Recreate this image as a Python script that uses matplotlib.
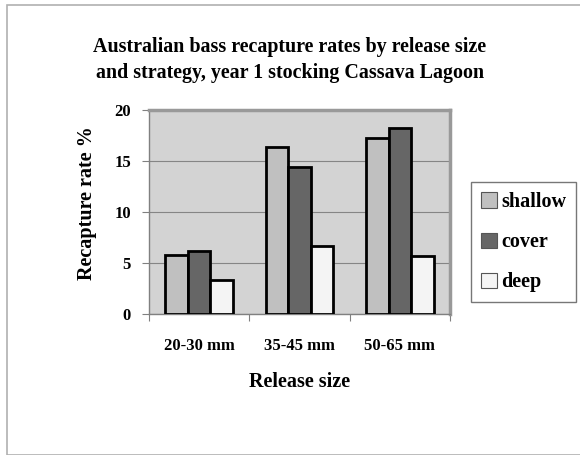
import numpy as np
import matplotlib.pyplot as plt
from matplotlib.patches import Rectangle

# Data
sizes = ['20-30 mm', '35-45 mm', '50-65 mm']
shallow = [5.8, 16.4, 17.3]
cover = [6.2, 14.4, 18.2]
deep = [3.3, 6.7, 5.7]
strategies = ['shallow', 'cover', 'deep']
colors = ['#c0c0c0', '#666666', '#f4f4f4']

plt.rcParams['font.family'] = ['Liberation Serif', 'DejaVu Serif']
plt.rcParams['font.weight'] = 'bold'

fig = plt.figure(figsize=(5.8, 4.55), dpi=100)
W, H = 580, 455

# outer chart border
fig.patches.append(Rectangle((7 / W, 0), 1, 1 - 5 / H, transform=fig.transFigure,
                             fill=False, edgecolor='#b0b0b0', linewidth=1.2))

ax = fig.add_axes([149 / W, (H - 314) / H, (450 - 149) / W, (314 - 110) / H])
ax.set_facecolor('#d3d3d3')

x = np.arange(len(sizes))
bw = 0.225
for i, (vals, lab) in enumerate(zip([shallow, cover, deep], strategies)):
    ax.bar(x + (i - 1) * bw, vals, bw, color=colors[i], edgecolor='black',
           linewidth=2, label=lab, zorder=3)

ax.set_xlim(-0.5, 2.5)
ax.set_ylim(0, 20)
ax.set_yticks([0, 5, 10, 15, 20])
ax.yaxis.grid(True, color='#858585', linewidth=0.8, zorder=0)
ax.set_xticks([-0.5, 0.5, 1.5, 2.5])
ax.set_xticklabels([])
ax.set_xticks(x, minor=True)
ax.set_xticklabels(sizes, minor=True, fontsize=12, fontweight='bold')
ax.tick_params(axis='x', which='minor', length=0, pad=17)
ax.tick_params(axis='x', which='major', length=5, color='#808080')
ax.tick_params(axis='y', length=5, color='#808080', labelsize=12, pad=8)
for lbl in ax.get_yticklabels():
    lbl.set_fontweight('bold')

for s in ['top', 'right']:
    ax.spines[s].set_color('#999999')
    ax.spines[s].set_linewidth(2.5)
for s in ['left', 'bottom']:
    ax.spines[s].set_color('#808080')
    ax.spines[s].set_linewidth(1)

ax.set_ylabel('Recapture rate %', fontsize=14.5, fontweight='bold')
ax.yaxis.set_label_coords(-0.172, 0.545)
ax.set_xlabel('Release size', fontsize=14.5, fontweight='bold', labelpad=13)

fig.text(290 / W, 1 - 47 / H, 'Australian bass recapture rates by release size',
         ha='center', va='center', fontsize=14.4, fontweight='bold')
fig.text(290 / W, 1 - 73 / H, 'and strategy, year 1 stocking Cassava Lagoon',
         ha='center', va='center', fontsize=14.4, fontweight='bold')

leg = fig.legend(loc='upper left', bbox_to_anchor=(471 / W, 1 - 182 / H),
                 bbox_transform=fig.transFigure, frameon=True, fancybox=False,
                 prop={'size': 14.5, 'weight': 'bold'}, handlelength=0.8,
                 handleheight=0.8, handletextpad=0.2, labelspacing=1.0,
                 borderpad=0.5, borderaxespad=0)
leg.get_frame().set_edgecolor('#555555')
leg.get_frame().set_linewidth(1)
for h in leg.legend_handles:
    h.set_linewidth(0.8)
    h.set_edgecolor('#555555')

fig.savefig('out.png', dpi=100)
